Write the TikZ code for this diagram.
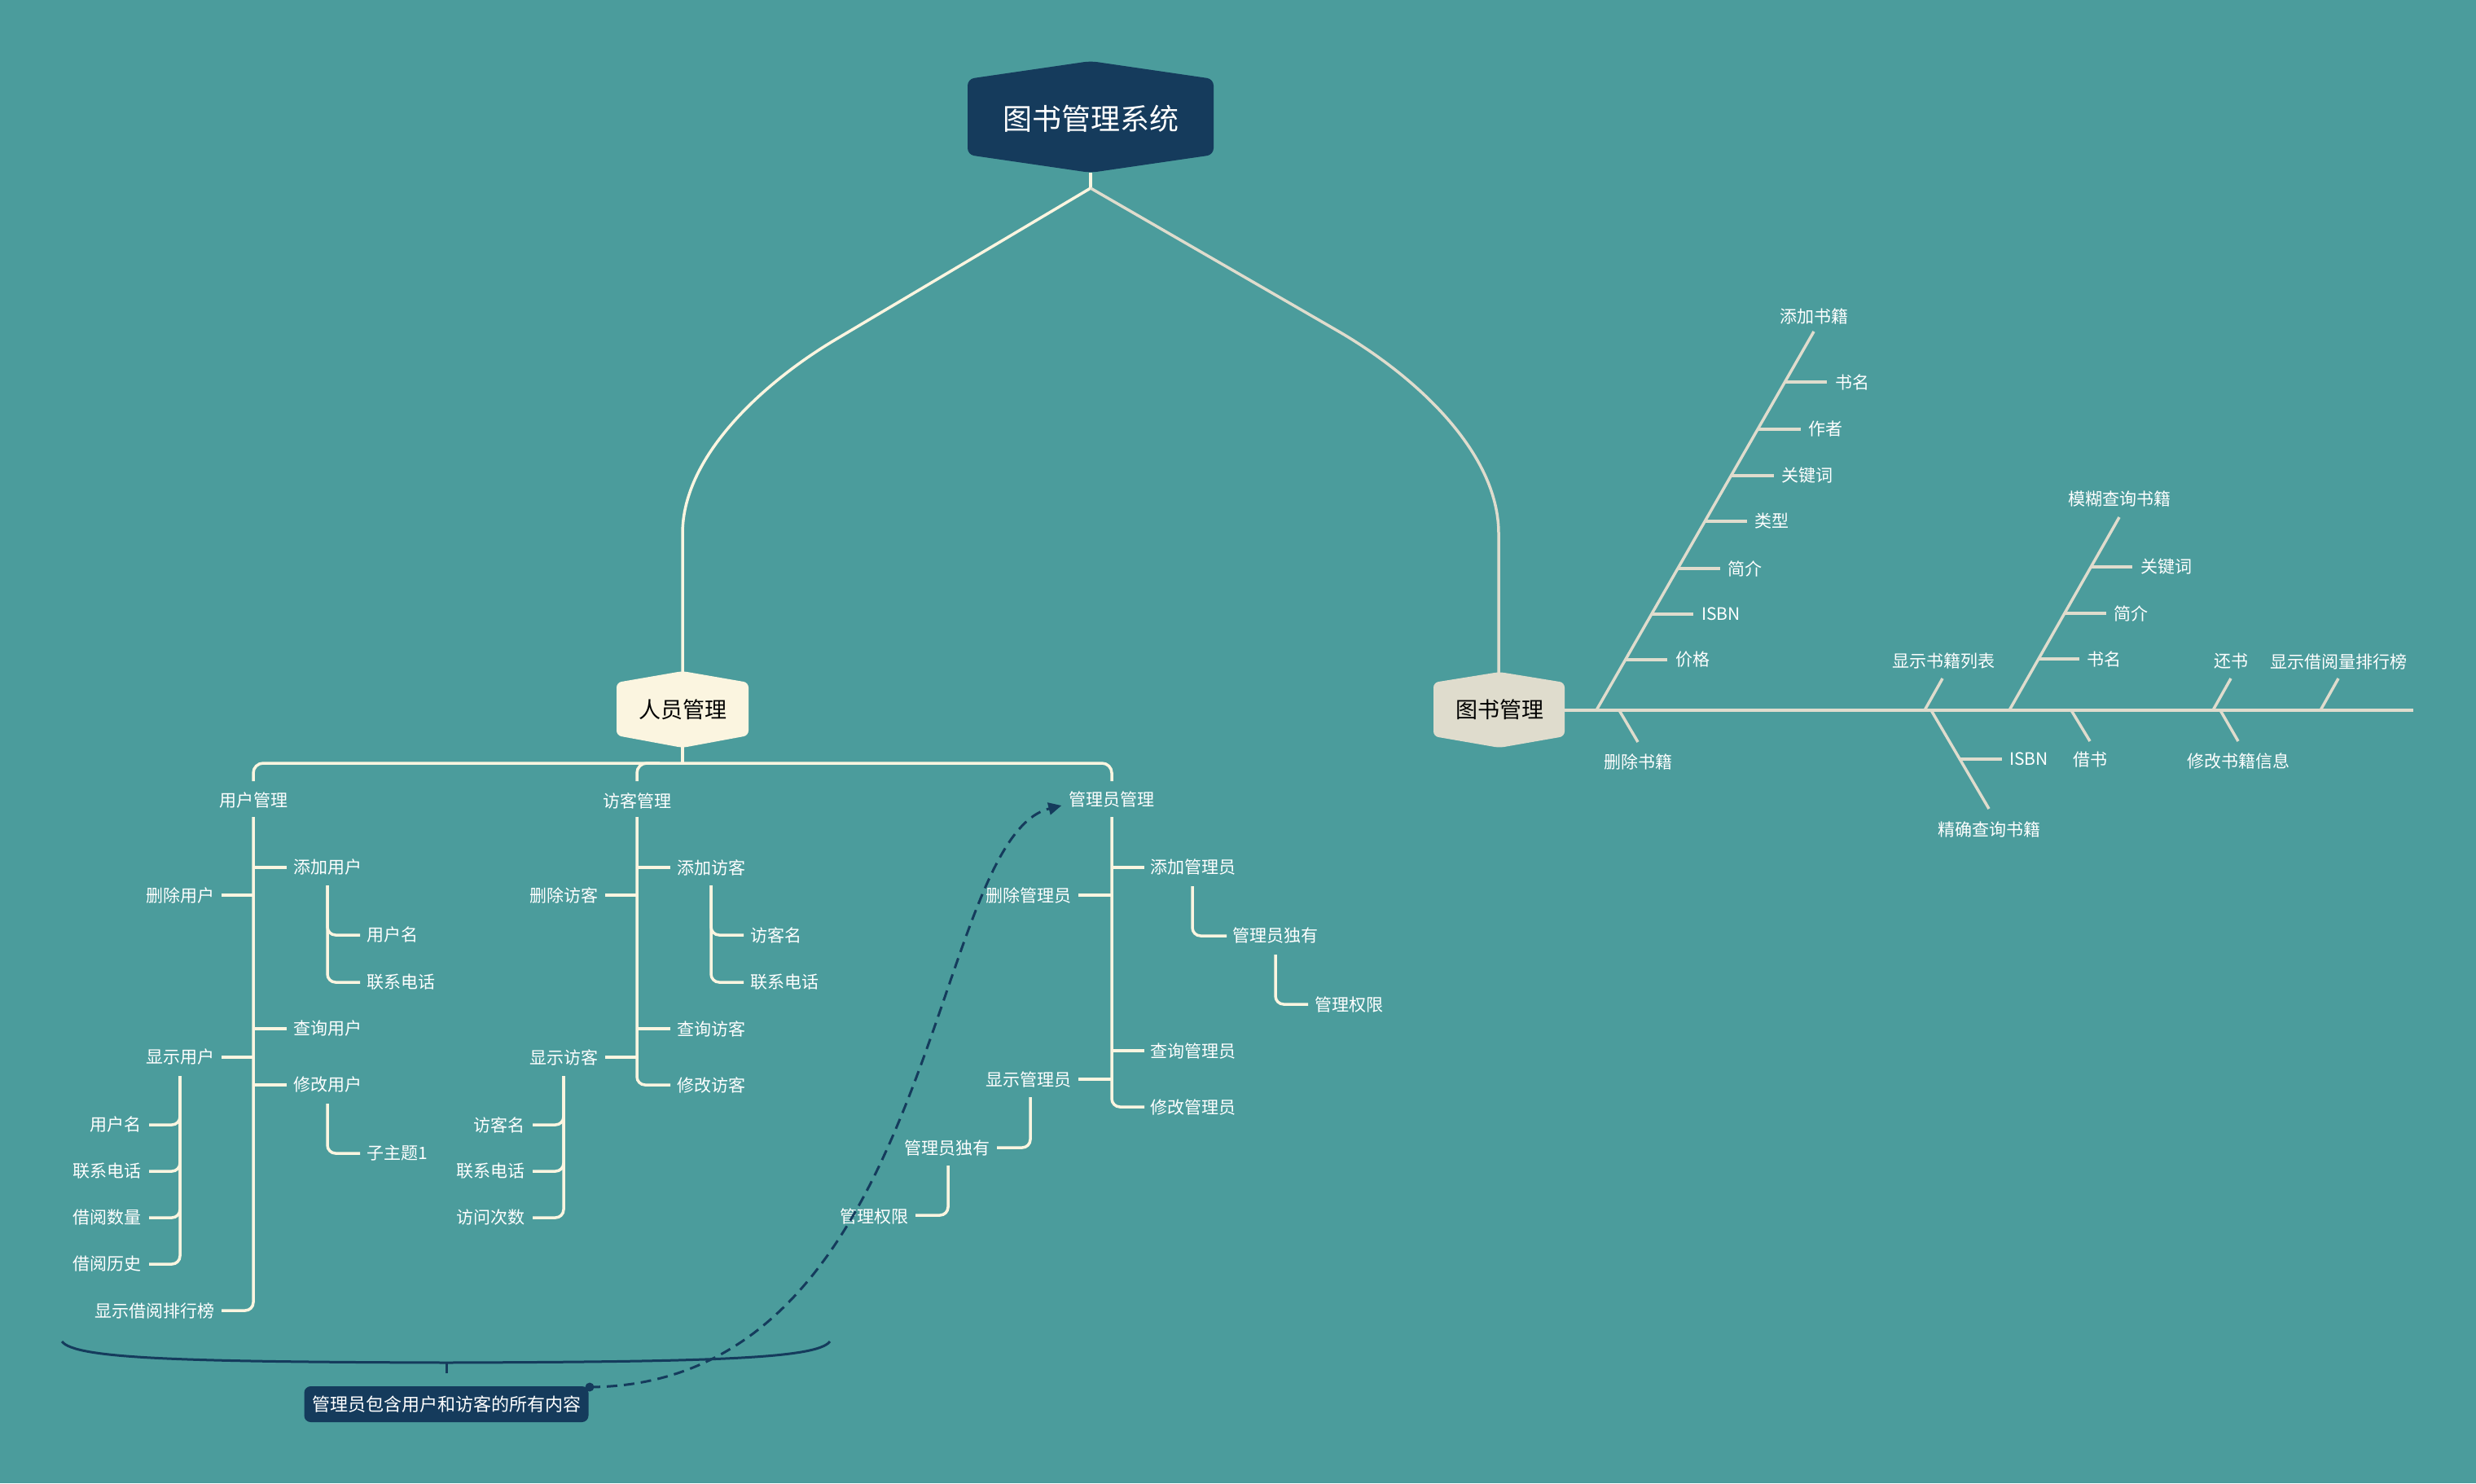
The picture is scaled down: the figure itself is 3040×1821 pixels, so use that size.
\documentclass[tikz,border=0pt]{standalone}
\usepackage{fontspec}
\setmainfont{Noto Sans CJK SC}
\usetikzlibrary{arrows.meta}
\definecolor{bg}{HTML}{4B9C9C}
\definecolor{navy}{HTML}{153B5C}
\definecolor{cream}{HTML}{FBF5E0}
\definecolor{beige}{HTML}{DFDCCD}
\begin{document}
\begin{tikzpicture}[x=1pt,y=-1pt,
  lbl/.style={inner sep=0pt,text=white,font=\fontsize{21}{21}\selectfont},
  pl/.style={draw=cream,line width=3.5pt},
  bl/.style={draw=beige,line width=3.5pt},
  rc/.style={rounded corners=10pt}]
\fill[bg] (0,0) rectangle (3040,1821);
\useasboundingbox (0,0) rectangle (3040,1821);

% ---------- root ----------
\fill[navy,rounded corners=8pt] (1339,75) -- (1490,97) -- (1490,190) -- (1339,212) -- (1188,190) -- (1188,97) -- cycle;
\node[inner sep=0pt,text=white,font=\fontsize{36}{36}\selectfont] (root) at (1339,146) {图书管理系统};
\coordinate (rj) at (1339,231);
\draw[pl] (1339,212) -- (rj);
\draw[pl] (rj) -- (1024,418) .. controls (947,464) and (838,555) .. (838,655) -- (838,826);
\draw[bl] (rj) -- (1642,406) .. controls (1737,461) and (1840,555) .. (1840,655) -- (1840,826);

% ---------- 人员管理 ----------
\fill[cream,rounded corners=6pt] (838,824) -- (919,838) -- (919,903) -- (838,918) -- (757,903) -- (757,838) -- cycle;
\node[inner sep=0pt,text=black,font=\fontsize{27}{27}\selectfont] (pm) at (838,871) {人员管理};
\draw[pl] (838,916) -- (838,937);
\draw[pl,rounded corners=12pt] (311,959) |- (838,937) -| (1365,959);
\draw[pl,rounded corners=12pt] (782,959) |- (810,937);

\node[lbl] (um) at (311,983) {用户管理};
\node[lbl] (vm) at (782,983) {访客管理};
\node[lbl] (am) at (1365,982) {管理员管理};

% user subtree
\draw[pl,rc] (311,1003) |- (272,1609);
\draw[pl] (311,1065) -- (352,1065);
\draw[pl] (272,1099) -- (311,1099);
\draw[pl] (311,1263) -- (352,1263);
\draw[pl] (272,1298) -- (311,1298);
\draw[pl] (311,1332) -- (352,1332);
\node[lbl,anchor=west] (uAdd) at (360,1065) {添加用户};
\node[lbl,anchor=east] (uDel) at (264,1099) {删除用户};
\node[lbl,anchor=west] (uQry) at (360,1263) {查询用户};
\node[lbl,anchor=east] (uShow) at (264,1298) {显示用户};
\node[lbl,anchor=west] (uMod) at (360,1332) {修改用户};
\node[lbl,anchor=east] (uRank) at (264,1609) {显示借阅排行榜};
\draw[pl,rc] (402,1087) |- (442,1148);
\draw[pl,rc] (402,1087) |- (442,1206);
\node[lbl,anchor=west] (uName) at (450,1148) {用户名};
\node[lbl,anchor=west] (uTel) at (450,1206) {联系电话};
\draw[pl,rc] (402,1355) |- (442,1416);
\node[lbl,anchor=west] (uSub) at (450,1416) {子主题1};
\draw[pl,rc] (221,1321) |- (183,1381);
\draw[pl,rc] (221,1321) |- (183,1438);
\draw[pl,rc] (221,1321) |- (183,1495);
\draw[pl,rc] (221,1321) |- (183,1552);
\node[lbl,anchor=east] (sName) at (174,1381) {用户名};
\node[lbl,anchor=east] (sTel) at (174,1438) {联系电话};
\node[lbl,anchor=east] (sNum) at (174,1495) {借阅数量};
\node[lbl,anchor=east] (sHis) at (174,1552) {借阅历史};

% visitor subtree
\draw[pl,rc] (782,1003) |- (823,1332);
\draw[pl] (782,1065) -- (823,1065);
\draw[pl] (743,1099) -- (782,1099);
\draw[pl] (782,1263) -- (823,1263);
\draw[pl] (743,1298) -- (782,1298);
\node[lbl,anchor=west] (vAdd) at (831,1065) {添加访客};
\node[lbl,anchor=east] (vDel) at (735,1099) {删除访客};
\node[lbl,anchor=west] (vQry) at (831,1263) {查询访客};
\node[lbl,anchor=east] (vShow) at (735,1298) {显示访客};
\node[lbl,anchor=west] (vMod) at (831,1332) {修改访客};
\draw[pl,rc] (873,1087) |- (913,1148);
\draw[pl,rc] (873,1087) |- (913,1206);
\node[lbl,anchor=west] (vName) at (921,1148) {访客名};
\node[lbl,anchor=west] (vTel) at (921,1206) {联系电话};
\draw[pl,rc] (692,1321) |- (654,1381);
\draw[pl,rc] (692,1321) |- (654,1438);
\draw[pl,rc] (692,1321) |- (654,1495);
\node[lbl,anchor=east] (tName) at (645,1381) {访客名};
\node[lbl,anchor=east] (tTel) at (645,1438) {联系电话};
\node[lbl,anchor=east] (tCnt) at (645,1495) {访问次数};

% admin subtree
\draw[pl,rc] (1365,1003) |- (1405,1359);
\draw[pl] (1365,1065) -- (1405,1065);
\draw[pl] (1324,1099) -- (1365,1099);
\draw[pl] (1365,1290) -- (1405,1290);
\draw[pl] (1324,1325) -- (1365,1325);
\node[lbl,anchor=west] (aAdd) at (1412,1065) {添加管理员};
\node[lbl,anchor=east] (aDel) at (1316,1099) {删除管理员};
\node[lbl,anchor=west] (aQry) at (1412,1290) {查询管理员};
\node[lbl,anchor=east] (aShow) at (1316,1325) {显示管理员};
\node[lbl,anchor=west] (aMod) at (1412,1359) {修改管理员};
\draw[pl,rc] (1464,1088) |- (1506,1149);
\node[lbl,anchor=west] (aOwn) at (1513,1149) {管理员独有};
\draw[pl,rc] (1566,1172) |- (1606,1233);
\node[lbl,anchor=west] (aPerm) at (1614,1234) {管理权限};
\draw[pl,rc] (1265,1347) |- (1224,1409);
\node[lbl,anchor=east] (bOwn) at (1216,1409) {管理员独有};
\draw[pl,rc] (1164,1431) |- (1124,1492);
\node[lbl,anchor=east] (bPerm) at (1116,1494) {管理权限};

% summary brace and note
\draw[navy,line width=3pt] (76,1647) .. controls (92,1668) and (220,1672) .. (548,1673) .. controls (876,1672) and (1003,1668) .. (1019,1647);
\draw[navy,line width=3pt] (548,1673) -- (548,1686);
\node[fill=navy,rounded corners=8pt,minimum width=349pt,minimum height=44pt,inner sep=0pt,text=white,font=\fontsize{22}{22}\selectfont] (note) at (548,1724) {管理员包含用户和访客的所有内容};
\fill[navy] (724,1703) circle (5.5pt);
\draw[navy,line width=3pt,dash pattern=on 13pt off 8pt,-{Triangle[length=16pt,width=15pt]}]
  (724,1703) .. controls (1150,1700) and (1140,1030) .. ([xshift=-9pt,yshift=-7pt]am.west);

% ---------- 图书管理 ----------
\fill[beige,rounded corners=6pt] (1841,825) -- (1921,838) -- (1921,904) -- (1841,918) -- (1760,904) -- (1760,838) -- cycle;
\node[inner sep=0pt,text=black,font=\fontsize{27}{27}\selectfont] (bm) at (1841,871) {图书管理};
\draw[bl] (1921,872) -- (2963,872);

% 添加书籍
\draw[bl] (1960,872) -- (2227,407);
\node[lbl] (bAdd) at (2227,388) {添加书籍};
\draw[bl] (2191,469) -- (2243,469);
\draw[bl] (2158,527) -- (2211,527);
\draw[bl] (2125,584) -- (2178,584);
\draw[bl] (2093,640) -- (2145,640);
\draw[bl] (2060,698) -- (2112,698);
\draw[bl] (2028,754) -- (2079,754);
\draw[bl] (1996,810) -- (2047,810);
\node[lbl,anchor=west] (k1) at (2253,469) {书名};
\node[lbl,anchor=west] (k2) at (2220,527) {作者};
\node[lbl,anchor=west] (k3) at (2187,584) {关键词};
\node[lbl,anchor=west] (k4) at (2154,640) {类型};
\node[lbl,anchor=west] (k5) at (2121,698) {简介};
\node[lbl,anchor=west] (k6) at (2089,754) {ISBN};
\node[lbl,anchor=west] (k7) at (2057,810) {价格};

% 删除书籍
\draw[bl] (1988,872) -- (2011,911);
\node[lbl] (bDel) at (2011,935) {删除书籍};

% 显示书籍列表
\draw[bl] (2363,872) -- (2385,833);
\node[lbl] (bList) at (2386,812) {显示书籍列表};

% 精确查询书籍
\draw[bl] (2371,872) -- (2442,993);
\node[lbl] (bExact) at (2442,1018) {精确查询书籍};
\draw[bl] (2406,932) -- (2458,932);
\node[lbl,anchor=west] (e1) at (2467,932) {ISBN};

% 模糊查询书籍
\draw[bl] (2467,872) -- (2602,635);
\node[lbl] (bFuzzy) at (2602,613) {模糊查询书籍};
\draw[bl] (2567,696) -- (2618,696);
\draw[bl] (2535,753) -- (2586,753);
\draw[bl] (2503,809) -- (2553,809);
\node[lbl,anchor=west] (f1) at (2628,696) {关键词};
\node[lbl,anchor=west] (f2) at (2595,753) {简介};
\node[lbl,anchor=west] (f3) at (2562,809) {书名};

% 借书 还书 修改 排行
\draw[bl] (2543,872) -- (2566,910);
\node[lbl] (bBor) at (2566,933) {借书};
\draw[bl] (2717,872) -- (2739,833);
\node[lbl] (bRet) at (2739,812) {还书};
\draw[bl] (2726,872) -- (2748,910);
\node[lbl] (bEdit) at (2748,934) {修改书籍信息};
\draw[bl] (2849,872) -- (2871,833);
\node[lbl] (bRank) at (2871,812) {显示借阅量排行榜};
\end{tikzpicture}
\end{document}
